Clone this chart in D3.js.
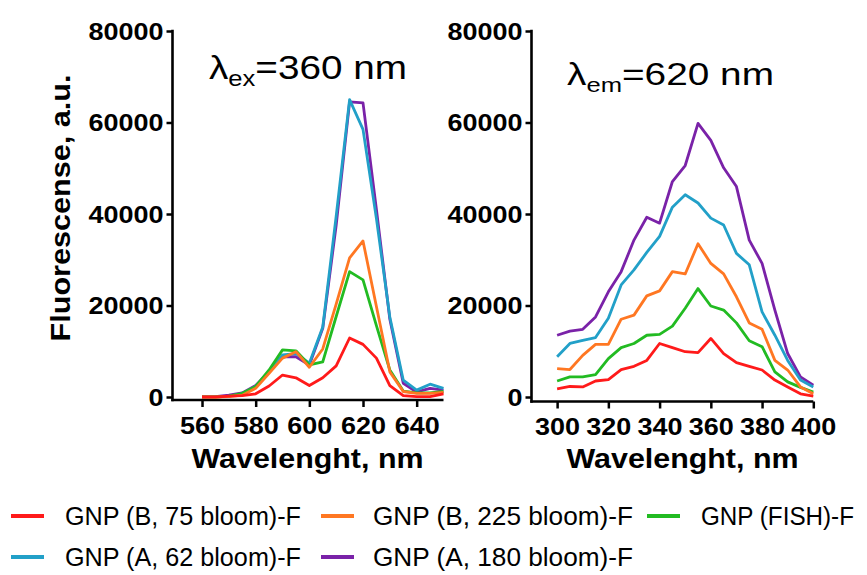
<!DOCTYPE html>
<html>
<head>
<meta charset="utf-8">
<script src="https://cdn.jsdelivr.net/npm/d3@7"></script>
<style>
  html, body { margin: 0; padding: 0; background: #fff; }
  svg { display: block; }
  text { font-family: "Liberation Sans", Arial, Helvetica, sans-serif; fill: #000; }
</style>
</head>
<body>
<svg id="chart" width="867" height="575"></svg>
<script>
// ---- data ----
const seriesNames = [
  "GNP (B, 75 bloom)-F",
  "GNP (B, 225 bloom)-F",
  "GNP (FISH)-F",
  "GNP (A, 62 bloom)-F",
  "GNP (A, 180 bloom)-F"
];
const seriesColors = ["#ff1a1a", "#ff7722", "#22bb22", "#22a0c8", "#7a22a8"];

// excitation scan at λex = 360 nm (emission wavelength, nm)
const exWavelength = [560, 565, 570, 575, 580, 585, 590, 595, 600, 605, 610, 615, 620, 625, 630, 635, 640, 645, 650];
const exB75   = [0, 0, 200, 300, 700, 2400, 4800, 4200, 2500, 4200, 6800, 12900, 11500, 8500, 2500, 300, 100, 100, 700];
const exB225  = [0, 0, 100, 400, 1900, 5200, 8500, 9900, 6500, 10500, 20300, 30400, 34100, 19800, 5500, 1200, 800, 800, 1000];
const exFISH  = [0, 0, 200, 800, 2300, 5900, 10300, 10100, 7000, 7700, 17600, 27400, 25600, 15600, 5900, 1300, 900, 900, 1200];
const exA62   = [0, 100, 200, 700, 2300, 5500, 9200, 9500, 7400, 15300, 39500, 65000, 58500, 39000, 17500, 3700, 1500, 2800, 1900];
const exA180  = [0, 100, 400, 900, 2500, 5500, 8800, 8800, 7000, 15000, 37500, 64500, 64300, 41000, 17000, 3000, 1100, 1900, 1500];

// emission at λem = 620 nm (excitation wavelength, nm)
const emWavelength = [300, 305, 310, 315, 320, 325, 330, 335, 340, 345, 350, 355, 360, 365, 370, 375, 380, 385, 390, 395, 400];
const emB75   = [1800, 2300, 2200, 3500, 3800, 6000, 6700, 8000, 11700, 10800, 9900, 9700, 12800, 9500, 7500, 6700, 5900, 3700, 2200, 700, 200];
const emB225  = [6200, 6000, 9100, 11500, 11500, 17000, 17900, 22100, 23200, 27400, 26900, 33500, 29200, 26900, 21900, 16200, 14800, 8000, 5900, 2200, 700];
const emFISH  = [3500, 4400, 4400, 4900, 8400, 10800, 11700, 13500, 13700, 15500, 19400, 23700, 19900, 19000, 16200, 12300, 11000, 5500, 3300, 2100, 1100];
const emA62   = [8800, 11700, 12400, 13000, 17200, 24500, 27800, 31600, 35100, 41500, 44200, 42400, 39100, 37600, 31400, 28900, 18600, 13500, 8000, 3700, 2200];
const emA180  = [13500, 14400, 14800, 17500, 23000, 27400, 34300, 39300, 38000, 47100, 50600, 59800, 56100, 50100, 46000, 34300, 29200, 19000, 9500, 4400, 2600];

const yTicks = [0, 20000, 40000, 60000, 80000];
const exTicks = [560, 580, 600, 620, 640];
const emTicks = [300, 320, 340, 360, 380, 400];

// ---- drawing ----
const svg = d3.select("#chart");
const y = d3.scaleLinear().domain([0, 80000]).range([397, 31]);
const digitW = 15; // rendered width of one tick-label digit

function fitWidth(sel, w) {
  sel.attr("textLength", w).attr("lengthAdjust", "spacingAndGlyphs");
}

function drawPanel(opt) {
  const g = svg.append("g");
  const x = d3.scaleLinear().domain(opt.xDomain).range(opt.xRange);
  const axisX = opt.xRange[0];
  const axisY = opt.axisY;

  // y axis
  const ya = g.append("g").attr("transform", `translate(${axisX},0)`)
    .call(d3.axisLeft(y).tickValues(yTicks).tickSize(6).tickSizeOuter(0).tickFormat(d => String(d)));
  ya.select(".domain").remove();
  ya.selectAll(".tick line").attr("stroke", "#000").attr("stroke-width", 2.5);
  ya.selectAll(".tick text")
    .attr("x", -9).attr("dy", "0.36em")
    .style("font-size", "23px").style("font-weight", "bold").attr("fill", "#000")
    .each(function(d) { fitWidth(d3.select(this), String(d).length * digitW); });

  // x axis
  const xa = g.append("g").attr("transform", `translate(0,${axisY})`)
    .call(d3.axisBottom(x).tickValues(opt.xTicks).tickSize(7).tickSizeOuter(0).tickFormat(d => String(d)));
  xa.select(".domain").remove();
  xa.selectAll(".tick line").attr("stroke", "#000").attr("stroke-width", 2.5);
  xa.selectAll(".tick text")
    .attr("y", opt.tickBaseline - axisY).attr("dy", 0)
    .style("font-size", "23px").style("font-weight", "bold").attr("fill", "#000")
    .each(function(d) { fitWidth(d3.select(this), String(d).length * digitW); });

  // axis lines
  g.append("line").attr("x1", axisX).attr("x2", axisX).attr("y1", y(80000) - 1.2).attr("y2", axisY + 1.2)
    .attr("stroke", "#000").attr("stroke-width", 2.6);
  g.append("line").attr("x1", axisX - 1.2).attr("x2", x(opt.xDomain[1])).attr("y1", axisY).attr("y2", axisY)
    .attr("stroke", "#000").attr("stroke-width", 2.6);

  // spectra
  const line = d3.line().x((d, i) => x(opt.wl[i])).y(d => y(d));
  opt.order.forEach(k => {
    g.append("path").datum(opt.series[k])
      .attr("d", line)
      .attr("fill", "none")
      .attr("stroke", seriesColors[k])
      .attr("stroke-width", 2.8)
      .attr("stroke-linejoin", "round");
  });

  // x title
  g.append("text")
    .attr("x", opt.titleX).attr("y", 468).attr("text-anchor", "middle")
    .style("font-size", "27px").style("font-weight", "bold")
    .text("Wavelenght, nm")
    .call(fitWidth, 232);

  // panel label λ with subscript
  const t = g.append("text").attr("x", 0).attr("y", 0).style("font-size", opt.labelSize + "px");
  t.append("tspan").text("λ");
  t.append("tspan").attr("dy", 7).style("font-size", (opt.labelSize * 0.66) + "px").text(opt.sub);
  t.append("tspan").attr("dy", -7).text(opt.labelRest);
  const bw = t.node().getBBox().width;
  t.attr("transform", `translate(${opt.labelX},${opt.labelY}) scale(${opt.labelW / bw},1)`);
}

drawPanel({
  xDomain: [549, 650], xRange: [172.5, 443.5], axisY: 400, tickBaseline: 434,
  xTicks: exTicks, wl: exWavelength,
  series: [exB75, exB225, exFISH, exA62, exA180], order: [4, 3, 2, 1, 0],
  titleX: 307.5,
  sub: "ex", labelRest: "=360 nm", labelSize: 33, labelX: 209, labelY: 79, labelW: 198
});

drawPanel({
  xDomain: [290, 400], xRange: [531.5, 813.3], axisY: 401.5, tickBaseline: 435,
  xTicks: emTicks, wl: emWavelength,
  series: [emB75, emB225, emFISH, emA62, emA180], order: [4, 3, 2, 1, 0],
  titleX: 682.5,
  sub: "em", labelRest: "=620 nm", labelSize: 31, labelX: 567, labelY: 85, labelW: 207
});

// shared y title
svg.append("text")
  .attr("transform", "translate(70,208) rotate(-90)")
  .attr("text-anchor", "middle")
  .style("font-size", "27px").style("font-weight", "bold")
  .text("Fluorescense, a.u.")
  .call(fitWidth, 267);

// legend
const legendPos = [
  { x: 11, y: 516, tx: 65, w: 236 },
  { x: 321, y: 516, tx: 373, w: 260 },
  { x: 647, y: 516, tx: 701, w: 153 },
  { x: 11, y: 557, tx: 65, w: 236 },
  { x: 321, y: 557, tx: 373, w: 260 }
];
const leg = svg.append("g");
seriesNames.forEach((name, i) => {
  const p = legendPos[i];
  leg.append("line").attr("x1", p.x).attr("x2", p.x + 33).attr("y1", p.y).attr("y2", p.y)
    .attr("stroke", seriesColors[i]).attr("stroke-width", 3.8);
  leg.append("text").attr("x", p.tx).attr("y", p.y + 9)
    .style("font-size", "25px")
    .text(name)
    .call(fitWidth, p.w);
});
</script>
</body>
</html>
